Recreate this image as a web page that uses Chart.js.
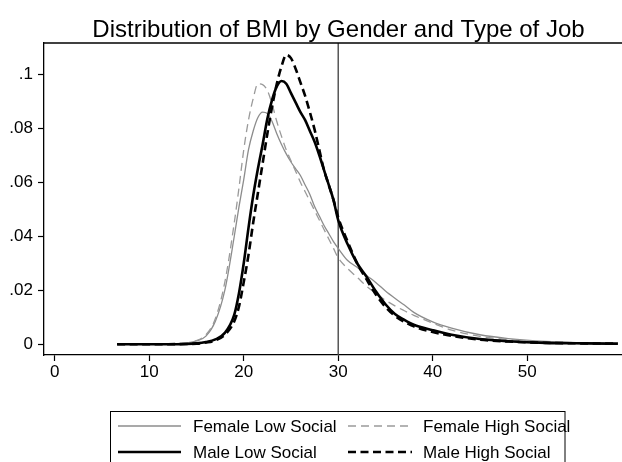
<!DOCTYPE html>
<html>
<head>
<meta charset="utf-8">
<script src="https://cdn.jsdelivr.net/npm/chart.js@4/dist/chart.umd.min.js"></script>
<style>
html,body{margin:0;padding:0;background:#fff;overflow:hidden;width:622px;height:462px;}
#wrap{position:absolute;left:0;top:0;width:633px;height:462px;}
</style>
</head>
<body>
<div id="wrap"><canvas id="c" width="633" height="462"></canvas></div>
<script>
const chartTitle = 'Distribution of BMI by Gender and Type of Job';
const seriesNames = ['Female Low Social', 'Female High Social', 'Male Low Social', 'Male High Social'];
const bmi = [6.6, 10, 12, 14, 15, 16, 17, 18,
  19, 19.5, 20, 20.5, 21, 21.5, 22, 22.5, 23, 23.5, 24, 24.5, 25, 25.5, 26, 26.5, 27, 27.5, 28, 28.5, 29, 29.5, 30,
  31, 32, 33, 34, 35, 36, 37, 38,
  40, 42, 45, 48, 52, 56, 59.6];
const femaleLow = [0, 0, 0.0001, 0.0005, 0.0012, 0.003, 0.0085, 0.020,
  0.040, 0.051, 0.061, 0.072, 0.079, 0.084, 0.086, 0.0855, 0.0825, 0.078, 0.074, 0.0705, 0.0675, 0.065, 0.0625, 0.059, 0.0555, 0.051, 0.0475, 0.044, 0.041, 0.038, 0.0355,
  0.031, 0.0285, 0.0255, 0.0228, 0.0197, 0.0170, 0.0145, 0.0118,
  0.0083, 0.0060, 0.0035, 0.0021, 0.0010, 0.0005, 0.0002];
const femaleHigh = [0, 0, 0.0001, 0.0005, 0.0013, 0.0035, 0.0095, 0.023,
  0.045, 0.058, 0.072, 0.083, 0.091, 0.0965, 0.0962, 0.094, 0.089, 0.0825, 0.077, 0.072, 0.068, 0.064, 0.060, 0.0565, 0.053, 0.0495, 0.046, 0.0425, 0.039, 0.0355, 0.032,
  0.028, 0.0248, 0.0215, 0.0188, 0.0163, 0.0142, 0.0124, 0.0107,
  0.0078, 0.0052, 0.0029, 0.0017, 0.0008, 0.0004, 0.0002];
const maleLow = [0, 0, 0, 0.0001, 0.0003, 0.0008, 0.0018, 0.0042,
  0.011, 0.019, 0.030, 0.043, 0.055, 0.065, 0.074, 0.0835, 0.0905, 0.0955, 0.0975, 0.0965, 0.093, 0.0895, 0.086, 0.083, 0.079, 0.075, 0.070, 0.0645, 0.059, 0.0534, 0.046,
  0.037, 0.030, 0.025, 0.0195, 0.0148, 0.0112, 0.0090, 0.0072,
  0.0052, 0.0035, 0.0019, 0.0011, 0.0005, 0.0003, 0.0002];
const maleHigh = [0, 0, 0, 0.0001, 0.0002, 0.0006, 0.0014, 0.0035,
  0.0085, 0.014, 0.023, 0.033, 0.045, 0.056, 0.067, 0.078, 0.088, 0.0965, 0.103, 0.1072, 0.106, 0.102, 0.097, 0.092, 0.086, 0.0795, 0.072, 0.0645, 0.059, 0.0535, 0.047,
  0.038, 0.030, 0.024, 0.0183, 0.0138, 0.0105, 0.0083, 0.0066,
  0.0045, 0.0031, 0.0017, 0.0010, 0.0005, 0.0003, 0.0002];
const xTickValues = [0, 10, 20, 30, 40, 50];
const xTickLabels = ['0', '10', '20', '30', '40', '50'];
const yTickValues = [0, 0.02, 0.04, 0.06, 0.08, 0.1];
const yTickLabels = ['0', '.02', '.04', '.06', '.08', '.1'];
const referenceLine = 30;

const FONT = '"Liberation Sans", Arial, Helvetica, sans-serif';
const toPts = arr => bmi.map((x, i) => ({x: x, y: arr[i]}));

const styles = [
  {borderColor: '#8c8c8c', borderWidth: 1.3, borderDash: []},
  {borderColor: '#9a9a9a', borderWidth: 1.3, borderDash: [8, 5]},
  {borderColor: '#000000', borderWidth: 2.6, borderDash: []},
  {borderColor: '#000000', borderWidth: 2.6, borderDash: [8, 4.5]}
];
const seriesData = [femaleLow, femaleHigh, maleLow, maleHigh];

const datasets = seriesNames.map((name, i) => Object.assign({
  label: name,
  data: toPts(seriesData[i]),
  pointRadius: 0,
  fill: false,
  tension: 0.4,
  cubicInterpolationMode: 'monotone'
}, styles[i]));
// draw order: greys first, black on top
datasets.forEach((d, i) => d.order = 4 - i);

const framePlugin = {
  id: 'frame',
  beforeDatasetsDraw(chart) {
    const ctx = chart.ctx, a = chart.chartArea, xs = chart.scales.x;
    ctx.save();
    const px = xs.getPixelForValue(referenceLine);
    ctx.strokeStyle = '#4a4a4a';
    ctx.lineWidth = 1.4;
    ctx.beginPath(); ctx.moveTo(px, a.top); ctx.lineTo(px, a.bottom); ctx.stroke();
    ctx.strokeStyle = '#000';
    ctx.lineWidth = 1.3;
    ctx.beginPath(); ctx.moveTo(a.left, a.top); ctx.lineTo(a.right + 2, a.top); ctx.stroke();
    ctx.restore();
  },
  afterDraw(chart) {
    const ctx = chart.ctx;
    ctx.save();
    ctx.strokeStyle = '#000';
    ctx.lineWidth = 1;
    ctx.setLineDash([]);
    ctx.strokeRect(110.5, 411.5, 454.5, 80);
    const rows = [426, 452];
    const cols = [{x0: 118, x1: 181, tx: 193}, {x0: 348, x1: 412, tx: 423}];
    ctx.font = '17px ' + FONT;
    ctx.textBaseline = 'middle';
    ctx.fillStyle = '#000';
    chart.data.datasets.forEach((d, i) => {
      const r = rows[Math.floor(i / 2)], c = cols[i % 2];
      ctx.strokeStyle = d.borderColor;
      ctx.lineWidth = d.borderWidth;
      ctx.setLineDash(d.borderDash || []);
      ctx.beginPath(); ctx.moveTo(c.x0, r); ctx.lineTo(c.x1, r); ctx.stroke();
      ctx.setLineDash([]);
      ctx.fillText(d.label, c.tx, r + 1);
    });
    ctx.restore();
  }
};

new Chart(document.getElementById('c'), {
  type: 'line',
  data: {datasets: datasets},
  options: {
    responsive: false,
    devicePixelRatio: 1,
    animation: false,
    layout: {padding: 0},
    plugins: {
      legend: {display: false},
      tooltip: {enabled: false},
      title: {
        display: true,
        text: chartTitle,
        fullSize: false,
        color: '#000',
        font: {family: FONT, size: 24, weight: 'normal', lineHeight: 1},
        padding: {top: 18, bottom: 1}
      }
    },
    scales: {
      x: {
        type: 'linear',
        min: -1.14,
        max: 61.2,
        afterFit(s) { s.height = 107; },
        afterBuildTicks(s) { s.ticks = xTickValues.map(v => ({value: v})); },
        ticks: {
          color: '#000',
          font: {family: FONT, size: 17},
          padding: 1,
          maxRotation: 0,
          autoSkip: false,
          callback: (v) => xTickLabels[xTickValues.indexOf(v)]
        },
        grid: {drawOnChartArea: false, drawTicks: true, tickLength: 6, color: '#000', tickWidth: 1.2},
        border: {display: true, color: '#000', width: 1.3}
      },
      y: {
        type: 'linear',
        min: -0.004,
        max: 0.1116,
        afterFit(s) { s.width = 44; },
        afterBuildTicks(s) { s.ticks = yTickValues.map(v => ({value: v})); },
        ticks: {
          color: '#000',
          font: {family: FONT, size: 17},
          padding: 5,
          autoSkip: false,
          callback: (v) => yTickLabels[yTickValues.indexOf(v)]
        },
        grid: {drawOnChartArea: false, drawTicks: true, tickLength: 6, color: '#000', tickWidth: 1.2},
        border: {display: true, color: '#000', width: 1.3}
      }
    }
  },
  plugins: [framePlugin]
});
</script>
</body>
</html>
